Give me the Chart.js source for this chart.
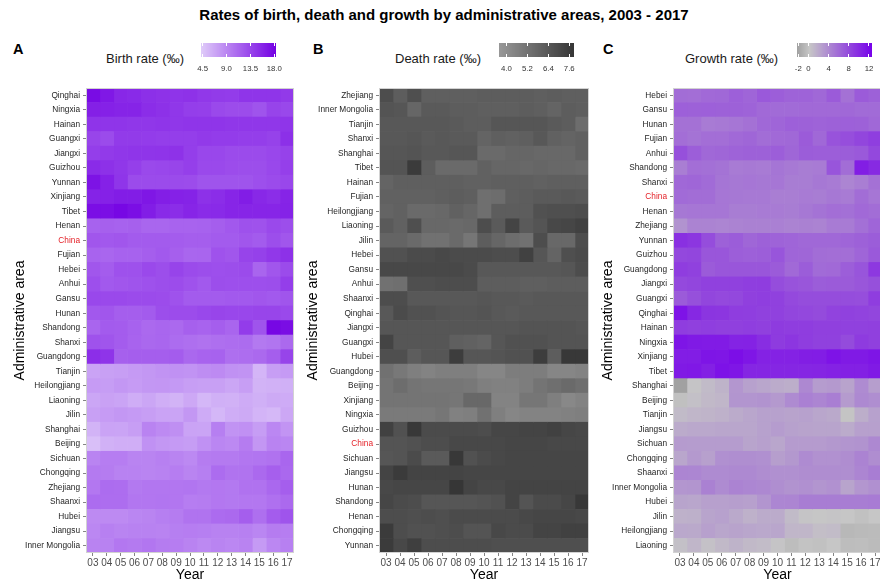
<!DOCTYPE html>
<html>
<head>
<meta charset="utf-8">
<script src="https://cdn.jsdelivr.net/npm/chart.js@4.4.1/dist/chart.umd.min.js"></script>
<style>
  html, body { margin: 0; padding: 0; background: #fff; }
  body { width: 880px; height: 587px; position: relative; overflow: hidden;
         font-family: "Liberation Sans", Arial, sans-serif; }
  .abs { position: absolute; white-space: nowrap; }
  #title { left: 0; width: 888px; top: 6px; line-height: 18px; text-align: center;
           font-weight: bold; font-size: 15px; color: #000; }
  .letter { top: 41px; line-height: 17px; font-weight: bold; font-size: 14.5px; color: #000; }
  .ltitle { top: 51px; line-height: 15px; font-size: 13px; color: #1a1a1a; }
  canvas { position: absolute; }
  canvas.chart { top: 80px; }
</style>
</head>
<body>
<div id="title" class="abs">Rates of birth, death and growth by administrative areas, 2003 - 2017</div>

<div class="abs letter" style="left:13px">A</div>
<div class="abs letter" style="left:313px">B</div>
<div class="abs letter" style="left:603px">C</div>

<div class="abs ltitle" style="left:106px">Birth rate (‰)</div>
<div class="abs ltitle" style="left:395px">Death rate (‰)</div>
<div class="abs ltitle" style="left:685px">Growth rate (‰)</div>

<canvas id="legendA" width="100" height="36" style="left:189px;top:38px"></canvas>
<canvas id="legendB" width="100" height="36" style="left:487px;top:38px"></canvas>
<canvas id="legendC" width="100" height="36" style="left:785px;top:38px"></canvas>

<canvas id="chartA" class="chart" width="300" height="507" style="left:0px"></canvas>
<canvas id="chartB" class="chart" width="292" height="507" style="left:300px"></canvas>
<canvas id="chartC" class="chart" width="300" height="507" style="left:592px"></canvas>

<script>
// ---- years on the x axis ----
const years = [2003, 2004, 2005, 2006, 2007, 2008, 2009, 2010, 2011, 2012, 2013, 2014, 2015, 2016, 2017];
const yearLabels = ['03', '04', '05', '06', '07', '08', '09', '10', '11', '12', '13', '14', '15', '16', '17'];

// ---- A: birth rate (‰), rows top to bottom ----
const birthAreas = ['Qinghai', 'Ningxia', 'Hainan', 'Guangxi', 'Jiangxi', 'Guizhou', 'Yunnan', 'Xinjiang', 'Tibet',
  'Henan', 'China', 'Fujian', 'Hebei', 'Anhui', 'Gansu', 'Hunan', 'Shandong', 'Shanxi', 'Guangdong',
  'Tianjin', 'Heilongjiang', 'Liaoning', 'Jilin', 'Shanghai', 'Beijing', 'Sichuan', 'Chongqing', 'Zhejiang',
  'Shaanxi', 'Hubei', 'Jiangsu', 'Inner Mongolia'];
const birthRates = [
  [17.6, 16.7, 15.7, 15.5, 15.1, 14.9, 14.8, 14.9, 14.5, 14.3, 14.2, 14.7, 14.7, 14.7, 14.4],
  [16.2, 16.1, 15.9, 15.9, 15.3, 15.0, 14.6, 14.1, 14.0, 13.3, 13.1, 13.1, 12.6, 13.7, 13.4],
  [14.8, 14.7, 14.7, 14.6, 14.6, 14.7, 14.6, 14.7, 14.7, 14.7, 14.6, 14.6, 14.6, 14.6, 14.7],
  [13.6, 13.2, 14.3, 14.3, 14.2, 14.1, 14.1, 14.1, 14.4, 14.2, 14.2, 14.1, 14.1, 13.8, 15.1],
  [14.1, 14.4, 14.6, 14.7, 14.7, 14.8, 14.9, 14.1, 13.5, 13.5, 13.2, 13.2, 13.2, 13.5, 13.8],
  [15.4, 15.0, 14.6, 14.0, 13.3, 13.5, 13.6, 14.0, 13.3, 13.3, 13.1, 13.0, 13.0, 13.4, 14.0],
  [17.1, 16.1, 14.7, 13.2, 13.2, 13.2, 13.2, 13.1, 12.6, 12.6, 12.6, 12.6, 12.9, 13.2, 13.5],
  [16.0, 16.1, 16.4, 16.4, 16.8, 16.3, 16.1, 16.0, 15.0, 15.3, 15.8, 16.4, 15.6, 15.3, 15.9],
  [17.4, 17.4, 17.9, 17.4, 16.4, 15.5, 15.3, 15.8, 15.4, 15.5, 15.8, 15.8, 15.8, 15.8, 16.0],
  [11.6, 11.7, 11.6, 11.7, 11.3, 11.3, 11.5, 11.5, 11.6, 11.9, 12.3, 12.8, 12.7, 13.3, 13.0],
  [12.4, 12.3, 12.4, 12.1, 12.1, 12.1, 12.0, 11.9, 11.9, 12.1, 12.1, 12.4, 12.1, 13.0, 12.4],
  [11.5, 11.3, 11.6, 11.6, 11.9, 12.2, 11.8, 11.3, 11.4, 12.7, 12.4, 13.7, 13.9, 14.5, 15.0],
  [12.4, 12.0, 12.8, 12.8, 13.3, 13.0, 13.7, 13.2, 13.0, 12.9, 13.0, 13.2, 11.4, 12.4, 13.2],
  [12.9, 12.2, 12.4, 12.6, 12.8, 13.0, 13.1, 12.7, 12.2, 13.0, 12.9, 12.9, 12.9, 13.0, 14.1],
  [13.4, 13.3, 13.3, 13.2, 13.2, 13.1, 12.7, 12.1, 12.1, 12.1, 12.2, 12.2, 12.4, 12.2, 12.5],
  [12.3, 12.4, 11.9, 11.9, 12.1, 13.0, 13.1, 13.1, 13.4, 13.6, 13.5, 13.5, 13.6, 13.6, 13.3],
  [11.4, 12.1, 12.0, 11.6, 11.1, 11.3, 11.1, 11.7, 11.5, 11.9, 11.4, 14.2, 12.6, 17.9, 17.5],
  [12.7, 12.5, 12.0, 11.5, 11.2, 11.3, 10.9, 10.7, 10.5, 10.7, 10.8, 10.9, 10.0, 10.3, 11.1],
  [15.2, 14.8, 11.7, 11.9, 11.9, 11.9, 12.0, 11.2, 11.5, 11.6, 10.7, 10.8, 11.1, 11.9, 13.7],
  [7.1, 7.3, 7.4, 7.7, 7.9, 8.2, 8.3, 8.2, 8.6, 8.8, 8.3, 8.2, 5.8, 7.4, 7.7],
  [7.6, 7.5, 7.9, 7.6, 7.9, 8.0, 7.8, 7.4, 7.3, 7.3, 6.9, 7.4, 6.0, 6.1, 6.2],
  [6.9, 7.2, 7.0, 6.4, 6.9, 6.3, 6.0, 6.7, 5.7, 6.2, 6.1, 6.5, 6.2, 6.6, 6.5],
  [7.3, 7.6, 7.9, 7.7, 7.4, 7.1, 7.0, 7.9, 6.5, 5.7, 6.4, 6.6, 5.9, 5.6, 6.8],
  [6.0, 7.1, 7.0, 7.4, 9.3, 8.8, 8.5, 7.1, 7.0, 9.6, 8.2, 8.4, 7.5, 9.0, 8.1],
  [5.1, 6.1, 6.3, 6.3, 8.3, 7.9, 7.7, 7.5, 8.3, 9.1, 8.9, 9.8, 8.0, 9.3, 9.1],
  [9.2, 9.7, 9.7, 9.2, 9.2, 9.5, 9.2, 8.9, 9.8, 9.9, 9.9, 10.2, 10.3, 10.5, 11.3],
  [9.9, 9.8, 9.4, 9.4, 9.2, 9.4, 9.7, 9.2, 9.6, 10.9, 10.4, 10.4, 11.1, 11.8, 11.2],
  [10.1, 10.9, 10.8, 10.0, 10.2, 10.2, 10.2, 10.3, 10.0, 10.1, 10.0, 10.5, 10.5, 11.2, 11.9],
  [10.9, 10.8, 10.8, 10.2, 10.2, 10.3, 10.2, 9.7, 9.8, 10.1, 10.0, 10.1, 10.1, 10.6, 11.1],
  [8.8, 8.8, 8.8, 9.1, 9.2, 9.6, 9.8, 10.4, 10.4, 11.0, 11.1, 11.9, 10.7, 12.0, 12.6],
  [9.0, 9.5, 9.2, 9.4, 9.4, 9.3, 9.6, 9.7, 9.6, 9.4, 9.4, 9.5, 9.1, 9.8, 9.7],
  [9.3, 9.4, 10.1, 9.9, 10.2, 9.8, 9.7, 9.3, 8.9, 9.2, 9.0, 9.3, 7.7, 9.0, 9.5]
];

// ---- B: death rate (‰), rows top to bottom ----
const deathAreas = ['Zhejiang', 'Inner Mongolia', 'Tianjin', 'Shanxi', 'Shanghai', 'Tibet', 'Hainan', 'Fujian',
  'Heilongjiang', 'Liaoning', 'Jilin', 'Hebei', 'Gansu', 'Anhui', 'Shaanxi', 'Qinghai', 'Jiangxi', 'Guangxi',
  'Hubei', 'Guangdong', 'Beijing', 'Xinjiang', 'Ningxia', 'Guizhou', 'China', 'Sichuan', 'Jiangsu', 'Hunan',
  'Shandong', 'Henan', 'Chongqing', 'Yunnan'];
const deathRates = [
  [6.9, 6.2, 6.8, 6.1, 6.1, 6.1, 6.1, 6.2, 6.2, 6.2, 6.2, 6.1, 6.2, 6.1, 6.1],
  [6.6, 6.5, 5.8, 6.3, 6.3, 6.2, 6.2, 6.1, 6.1, 6.1, 6.2, 6.1, 5.9, 6.2, 6.1],
  [6.4, 6.4, 6.4, 6.4, 6.4, 6.3, 6.2, 6.2, 6.5, 6.5, 6.5, 6.5, 6.3, 6.2, 5.5],
  [6.4, 6.4, 6.5, 6.3, 6.4, 6.3, 6.3, 5.9, 6.1, 6.0, 6.1, 6.4, 6.0, 5.9, 6.0],
  [6.5, 6.5, 6.6, 6.4, 6.4, 6.5, 6.5, 5.6, 5.6, 5.8, 5.8, 5.7, 5.7, 5.7, 6.0],
  [6.6, 6.6, 7.7, 6.2, 5.6, 5.6, 5.6, 6.0, 5.8, 5.8, 5.7, 5.8, 5.7, 5.7, 5.6],
  [5.9, 6.1, 6.1, 6.1, 6.1, 6.1, 6.0, 6.0, 6.1, 6.1, 6.1, 6.0, 6.1, 6.1, 6.1],
  [6.0, 6.0, 6.0, 6.0, 6.1, 6.2, 6.1, 5.4, 5.5, 6.1, 6.2, 6.3, 6.3, 6.4, 6.3],
  [5.9, 6.0, 5.6, 5.6, 5.7, 6.0, 5.8, 5.4, 6.2, 6.2, 6.2, 6.7, 6.8, 6.8, 6.9],
  [6.3, 6.0, 6.8, 5.7, 5.7, 5.6, 5.7, 6.9, 6.3, 7.3, 6.3, 6.6, 7.1, 7.2, 7.4],
  [5.9, 5.9, 5.6, 5.3, 5.3, 5.6, 5.1, 6.2, 5.8, 5.5, 5.3, 6.9, 5.7, 5.7, 6.9],
  [6.7, 6.7, 7.0, 7.0, 7.1, 7.0, 7.0, 7.0, 6.9, 6.9, 7.4, 6.5, 5.9, 6.8, 7.0],
  [7.1, 7.1, 7.1, 7.1, 7.1, 7.1, 7.0, 6.4, 6.4, 6.4, 6.4, 6.4, 6.4, 6.5, 6.9],
  [5.3, 5.4, 6.8, 6.8, 6.9, 6.9, 6.9, 6.2, 6.2, 6.2, 6.1, 6.1, 6.2, 6.2, 6.2],
  [6.9, 6.9, 6.4, 6.4, 6.4, 6.4, 6.4, 6.5, 6.4, 6.4, 6.3, 6.4, 6.4, 6.4, 6.4],
  [6.4, 7.0, 6.7, 6.7, 6.6, 6.5, 6.5, 6.6, 6.4, 6.3, 6.4, 6.4, 6.4, 6.4, 6.4],
  [6.5, 6.5, 6.5, 6.5, 6.5, 6.5, 6.5, 6.5, 6.5, 6.5, 6.6, 6.6, 6.6, 6.6, 6.5],
  [7.3, 6.5, 6.5, 6.5, 6.5, 6.1, 6.0, 5.9, 6.5, 6.7, 6.7, 6.7, 6.6, 6.6, 6.6],
  [6.8, 6.8, 6.2, 6.5, 6.5, 7.6, 6.5, 6.5, 6.6, 6.7, 6.7, 7.6, 6.2, 7.8, 7.8],
  [5.3, 5.0, 4.7, 4.5, 4.7, 4.7, 4.7, 4.4, 4.4, 4.8, 4.8, 4.8, 4.4, 4.4, 4.5],
  [5.2, 5.5, 5.2, 5.1, 5.1, 5.1, 5.0, 4.7, 4.6, 4.6, 4.8, 5.2, 5.4, 5.6, 5.4],
  [5.2, 5.2, 5.2, 5.2, 5.2, 5.1, 5.7, 5.7, 4.5, 4.5, 5.1, 5.1, 4.7, 4.3, 4.5],
  [4.9, 4.9, 4.9, 4.9, 5.1, 4.6, 4.7, 5.3, 4.7, 4.4, 4.5, 4.5, 4.5, 4.6, 4.7],
  [7.4, 6.7, 7.8, 7.0, 7.0, 7.0, 7.0, 6.9, 7.2, 7.2, 7.3, 7.3, 7.4, 7.2, 7.1],
  [6.6, 6.6, 6.7, 6.9, 6.9, 7.1, 7.1, 7.1, 7.1, 7.2, 7.2, 7.2, 7.1, 7.1, 7.1],
  [6.5, 6.6, 7.0, 6.3, 6.3, 7.8, 6.7, 7.0, 7.1, 7.2, 7.2, 7.2, 7.2, 7.2, 7.2],
  [7.3, 7.7, 7.3, 7.3, 7.3, 7.3, 7.2, 7.2, 7.2, 7.2, 7.2, 7.2, 7.2, 7.2, 7.2],
  [7.1, 7.2, 7.2, 7.2, 7.2, 7.9, 7.3, 7.1, 7.1, 7.3, 7.3, 7.3, 7.3, 7.3, 7.3],
  [7.2, 7.0, 6.9, 6.5, 6.5, 6.5, 6.5, 6.6, 6.7, 7.3, 6.6, 7.0, 7.0, 7.2, 7.8],
  [6.9, 6.9, 6.8, 6.9, 6.8, 7.0, 7.0, 7.0, 7.0, 7.0, 7.1, 7.2, 7.2, 7.2, 7.1],
  [7.7, 6.9, 6.7, 6.7, 6.8, 6.9, 6.6, 6.6, 7.1, 7.0, 7.0, 7.3, 7.3, 7.4, 7.4],
  [7.7, 7.1, 7.5, 6.9, 6.9, 6.9, 6.9, 6.9, 6.8, 6.8, 6.8, 6.8, 6.8, 6.8, 6.8]
];

// ---- C: natural growth rate (‰), rows top to bottom ----
const growthAreas = ['Hebei', 'Gansu', 'Hunan', 'Fujian', 'Anhui', 'Shandong', 'Shanxi', 'China', 'Henan',
  'Zhejiang', 'Yunnan', 'Guizhou', 'Guangdong', 'Jiangxi', 'Guangxi', 'Qinghai', 'Hainan', 'Ningxia',
  'Xinjiang', 'Tibet', 'Shanghai', 'Beijing', 'Tianjin', 'Jiangsu', 'Sichuan', 'Chongqing', 'Shaanxi',
  'Inner Mongolia', 'Hubei', 'Jilin', 'Heilongjiang', 'Liaoning'];
const growthRates = [
  [5.9, 5.8, 6.1, 6.2, 6.7, 6.4, 7.1, 6.8, 6.5, 6.5, 6.2, 7.0, 5.6, 7.0, 6.6],
  [6.7, 6.6, 6.7, 6.6, 6.6, 6.5, 6.1, 6.0, 6.0, 6.1, 6.1, 6.1, 6.2, 6.0, 6.0],
  [5.6, 5.6, 5.0, 5.1, 5.3, 5.6, 6.2, 6.4, 6.7, 6.6, 6.5, 6.6, 6.7, 6.6, 6.2],
  [5.8, 5.5, 5.8, 5.8, 6.1, 6.3, 5.9, 6.1, 6.2, 7.0, 6.2, 7.5, 7.8, 8.3, 8.8],
  [7.7, 6.8, 6.2, 6.3, 6.5, 6.6, 6.6, 6.8, 6.3, 6.9, 6.8, 6.8, 6.9, 7.1, 8.2],
  [4.8, 5.8, 5.7, 5.5, 5.0, 5.1, 5.0, 5.4, 5.1, 4.9, 5.0, 7.4, 5.9, 10.8, 10.1],
  [6.2, 6.3, 6.0, 5.4, 5.2, 5.3, 5.2, 5.3, 4.9, 4.9, 5.2, 5.0, 4.4, 4.8, 5.6],
  [6.0, 5.9, 5.9, 5.3, 5.2, 5.1, 5.1, 4.8, 4.8, 5.0, 4.9, 5.2, 5.0, 5.9, 5.3],
  [5.2, 5.3, 5.3, 5.3, 4.9, 4.9, 5.0, 5.0, 4.9, 5.2, 5.5, 5.8, 5.7, 6.1, 5.9],
  [3.5, 4.5, 4.5, 4.4, 4.5, 4.6, 4.6, 4.7, 4.5, 4.6, 4.5, 5.0, 5.0, 5.7, 6.4],
  [9.7, 9.3, 7.9, 6.6, 6.9, 6.3, 6.6, 6.5, 6.4, 6.2, 6.2, 6.2, 6.4, 6.6, 6.9],
  [8.2, 8.3, 7.3, 7.3, 6.8, 6.7, 6.8, 7.4, 6.4, 6.3, 5.9, 5.8, 5.8, 6.4, 7.1],
  [8.9, 8.6, 7.0, 7.3, 7.3, 7.3, 7.3, 7.0, 6.1, 6.9, 6.0, 6.1, 6.8, 7.4, 9.2],
  [8.1, 8.3, 8.6, 8.6, 8.6, 8.8, 8.9, 7.9, 7.5, 7.3, 6.9, 7.0, 7.0, 7.3, 7.7],
  [7.0, 7.7, 8.3, 8.1, 8.2, 8.7, 8.8, 8.6, 8.1, 7.9, 7.9, 7.9, 7.9, 7.8, 8.9],
  [11.5, 10.2, 9.4, 9.3, 8.9, 8.8, 8.6, 8.6, 8.3, 8.2, 8.0, 8.5, 8.6, 8.5, 8.3],
  [8.9, 8.7, 8.8, 8.7, 8.7, 8.8, 8.7, 9.0, 8.9, 8.9, 8.7, 8.7, 8.6, 8.6, 8.7],
  [11.4, 11.1, 11.0, 11.0, 10.5, 10.6, 9.9, 9.0, 9.3, 8.9, 8.6, 8.6, 8.0, 9.0, 8.7],
  [10.9, 10.9, 11.4, 11.3, 11.8, 11.3, 10.6, 10.6, 10.6, 10.8, 10.9, 11.5, 11.1, 11.1, 11.4],
  [11.1, 11.2, 10.7, 11.6, 11.3, 10.3, 10.3, 10.3, 10.3, 10.3, 10.4, 10.6, 10.7, 10.7, 11.1],
  [-2.1, 0.4, 1.0, 1.5, 3.3, 2.6, 2.3, 2.0, 1.8, 4.2, 2.9, 3.1, 2.5, 4.0, 2.8],
  [-0.1, 0.7, 1.1, 1.3, 3.4, 3.4, 3.5, 3.1, 4.0, 4.7, 4.4, 4.8, 3.0, 4.1, 3.8],
  [1.0, 1.3, 1.4, 1.6, 2.0, 2.3, 2.6, 2.6, 2.5, 2.6, 2.3, 2.1, 0.2, 1.8, 2.6],
  [2.0, 2.2, 2.2, 2.3, 2.3, 2.3, 2.6, 2.9, 2.6, 2.5, 2.4, 2.4, 2.0, 2.7, 2.7],
  [3.0, 2.9, 2.9, 2.9, 2.9, 2.4, 2.7, 2.3, 3.0, 3.0, 3.0, 3.2, 3.4, 3.5, 4.2],
  [2.3, 3.1, 2.7, 3.7, 3.8, 3.8, 3.7, 2.8, 3.2, 4.0, 3.6, 3.6, 3.9, 4.5, 3.9],
  [4.4, 4.3, 4.0, 4.0, 4.1, 4.1, 3.9, 3.7, 3.7, 3.9, 3.9, 3.9, 3.8, 4.4, 4.9],
  [3.3, 3.4, 4.6, 4.0, 4.5, 4.3, 4.2, 3.8, 3.5, 3.7, 3.4, 3.6, 2.4, 3.3, 3.7],
  [2.4, 2.3, 2.7, 2.7, 2.8, 2.7, 3.4, 4.3, 4.4, 4.9, 4.9, 4.9, 4.9, 4.9, 5.0],
  [1.6, 1.7, 2.4, 2.6, 2.1, 1.6, 2.0, 2.0, 1.0, 0.4, 0.3, 0.4, 0.3, 0.0, 0.3],
  [2.2, 2.1, 2.7, 2.3, 2.5, 2.3, 2.2, 2.3, 1.3, 1.3, 0.8, 0.9, -0.6, -0.5, -0.4],
  [0.7, 1.3, 0.6, 1.1, 1.5, 1.1, 0.9, 0.4, -0.3, 0.1, 0.0, 0.3, -0.3, -0.2, -0.4]
];

// ---- legend breaks and their printed labels ----
const birthBreaks = [4.5, 9.0, 13.5, 18.0];
const birthBreakLabels = ['4.5', '9.0', '13.5', '18.0'];
const deathBreaks = [4.0, 5.2, 6.4, 7.6];
const deathBreakLabels = ['4.0', '5.2', '6.4', '7.6'];
const growthBreaks = [-2, 0, 4, 8, 12];
const growthBreakLabels = ['-2', '0', '4', '8', '12'];

// ---- colour scales (piecewise linear in RGB) ----
function hexToRgb(h) {
  return [parseInt(h.slice(1, 3), 16), parseInt(h.slice(3, 5), 16), parseInt(h.slice(5, 7), 16)];
}
function makeScale(stops) {
  const s = stops.map(([v, c]) => [v, hexToRgb(c)]);
  const fn = v => {
    if (v <= s[0][0]) v = s[0][0];
    if (v >= s[s.length - 1][0]) v = s[s.length - 1][0];
    let i = 0;
    while (i < s.length - 2 && v > s[i + 1][0]) i++;
    const [v0, c0] = s[i], [v1, c1] = s[i + 1];
    const t = (v - v0) / (v1 - v0);
    const c = c0.map((x, k) => Math.round(x + (c1[k] - x) * t));
    return `rgb(${c[0]},${c[1]},${c[2]})`;
  };
  fn.min = s[0][0];
  fn.max = s[s.length - 1][0];
  return fn;
}
const birthColour = makeScale([[4.3, '#dfcbf9'], [18.4, '#7300e3']]);
const deathColour = makeScale([[3.6, '#989898'], [7.9, '#363636']]);
const growthColour = makeScale([[-2.15, '#a0a0a0'], [0.3, '#c6c6c6'], [12.7, '#7600ea']]);

const FONT = '"Liberation Sans", Arial, sans-serif';

// ---- colour bar legends: bar 12px in from the canvas edge, 75px wide ----
function drawLegend(id, scale, breaks, labels) {
  const cv = document.getElementById(id);
  const ctx = cv.getContext('2d');
  const x0 = 12, w = 75, y0 = 5, h = 14;
  for (let i = 0; i < w; i++) {
    ctx.fillStyle = scale(scale.min + (scale.max - scale.min) * (i + 0.5) / w);
    ctx.fillRect(x0 + i, y0, 1, h);
  }
  ctx.font = `7.8px ${FONT}`;
  ctx.textAlign = 'center';
  ctx.textBaseline = 'middle';
  breaks.forEach((b, k) => {
    const x = x0 + (b - scale.min) / (scale.max - scale.min) * w;
    ctx.fillStyle = '#ffffff';
    ctx.fillRect(Math.round(x), y0, 1, 3);
    ctx.fillRect(Math.round(x), y0 + h - 3, 1, 3);
    ctx.fillStyle = '#333333';
    ctx.fillText(labels[k], x + 0.5, 30.5);
  });
}
drawLegend('legendA', birthColour, birthBreaks, birthBreakLabels);
drawLegend('legendB', deathColour, deathBreaks, deathBreakLabels);
drawLegend('legendC', growthColour, growthBreaks, growthBreakLabels);

// ---- panel frame ----
const framePlugin = {
  id: 'frame',
  afterDatasetsDraw(chart) {
    const { ctx, chartArea: a } = chart;
    ctx.save();
    ctx.strokeStyle = '#d2d2d2';
    ctx.lineWidth = 1;
    ctx.strokeRect(Math.round(a.left) + 0.5, Math.round(a.top) + 0.5,
      Math.round(a.right - a.left) - 1, Math.round(a.bottom - a.top) - 1);
    ctx.restore();
  }
};

function heatmap(canvasId, areas, values, colour, opt) {
  const datasets = years.map((yr, j) => ({
    data: areas.map(() => [yr - 0.5, yr + 0.5]),
    backgroundColor: areas.map((a, i) => colour(values[i][j])),
    borderWidth: 0,
    barPercentage: 1,
    categoryPercentage: 1,
    grouped: false
  }));
  return new Chart(document.getElementById(canvasId), {
    type: 'bar',
    data: { labels: areas, datasets },
    plugins: [framePlugin],
    options: {
      indexAxis: 'y',
      responsive: false,
      animation: false,
      devicePixelRatio: 1,
      layout: { padding: { top: 8, left: 0, right: opt.padRight, bottom: 0 } },
      plugins: { legend: { display: false }, tooltip: { enabled: false } },
      scales: {
        x: {
          type: 'linear',
          min: years[0] - 0.5,
          max: years[years.length - 1] + 0.5,
          afterBuildTicks: s => { s.ticks = years.map(v => ({ value: v })); },
          afterFit: s => { s.height = 34; },
          ticks: {
            callback: v => yearLabels[years.indexOf(v)],
            autoSkip: false, maxRotation: 0, padding: 1.5,
            color: '#4d4d4d', font: { family: FONT, size: 10 }
          },
          grid: { drawOnChartArea: false, drawTicks: true, tickLength: 3, color: '#666', lineWidth: 0.8 },
          border: { display: false },
          title: { display: true, text: 'Year', color: '#000',
                   font: { family: FONT, size: 14 }, padding: { top: 0, bottom: 3 } }
        },
        y: {
          type: 'category',
          afterFit: s => { s.width = opt.axisWidth; },
          ticks: {
            autoSkip: false, padding: 3,
            color: c => (areas[c.index] === 'China' ? '#e41f26' : '#1f1f1f'),
            font: { family: FONT, size: 8.3 }
          },
          grid: { offset: false, drawOnChartArea: false, drawTicks: true, tickLength: 3, color: '#666', lineWidth: 0.8 },
          border: { display: false },
          title: { display: true, text: 'Administrative area', color: '#000',
                   font: { family: FONT, size: 14 }, padding: { top: opt.titlePad, bottom: 0 } }
        }
      }
    }
  });
}

heatmap('chartA', birthAreas, birthRates, birthColour, { axisWidth: 86, padRight: 6, titlePad: 12 });
heatmap('chartB', deathAreas, deathRates, deathColour, { axisWidth: 79, padRight: 3, titlePad: 5 });
heatmap('chartC', growthAreas, growthRates, growthColour, { axisWidth: 81, padRight: 10, titlePad: 7.5 });
</script>
</body>
</html>
